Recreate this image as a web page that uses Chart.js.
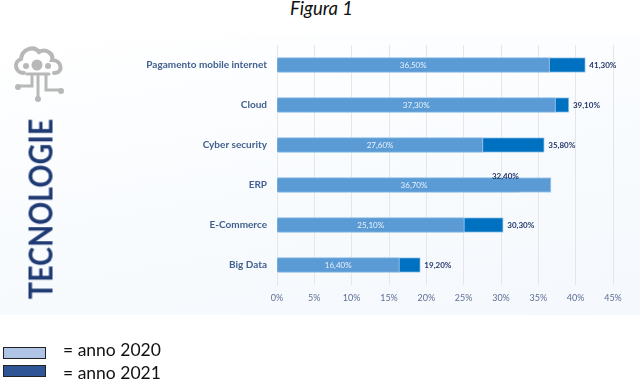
<!DOCTYPE html>
<html>
<head>
<meta charset="utf-8">
<script src="https://cdn.jsdelivr.net/npm/chart.js@4"></script>
<style>
    html, body { margin: 0; padding: 0; background: #fff; }
    body { position: relative; width: 640px; height: 382px; overflow: hidden; font-family: Lato, sans-serif; }
    #panel { position: absolute; left: 0; top: 35px; width: 640px; height: 280px;
             background: linear-gradient(170deg, #ffffff 0%, #f8fbfe 55%, #f5f8fc 100%); }
    #chartBox { position: absolute; left: 0; top: 0; width: 640px; height: 382px; filter: blur(0.35px); }
    #title { position: absolute; left: 0; top: -2px; width: 643px; text-align: center;
             font: italic 18.5px Lato, sans-serif; color: #111; line-height: 20px; }
    #side { position: absolute; left: 39.5px; top: 209px; transform: translate(-50%, -50%) rotate(-90deg) scaleX(0.895);
            font: bold 32px Lato, sans-serif; color: #1f3a73; white-space: nowrap; filter: blur(0.4px); }
    #icon { position: absolute; left: 12px; top: 44px; filter: blur(0.5px); }
    .swatch { position: absolute; left: 3px; width: 41px; height: 10px; border: 1px solid #222; }
    .legendText { position: absolute; left: 63px; font: 17.5px Lato, sans-serif; color: #111; line-height: 20px; white-space: nowrap; }
</style>
</head>
<body>
<div id="panel"></div>
<div id="title">Figura 1</div>
<svg id="icon" width="54" height="58" viewBox="0 0 54 58" fill="none" stroke="#b8b8b8" stroke-width="4" stroke-linecap="round">
    <path d="M12 29 C3 29 1 18 9 15 C10 5 22 1 27 8 C34 4 42 10 40 16 C50 16 52 29 42 29" />
    <circle cx="25" cy="21" r="5.5" fill="#b8b8b8" stroke="none"/>
    <circle cx="14" cy="22" r="3" fill="#b8b8b8" stroke="none"/>
    <circle cx="36" cy="22" r="3" fill="#b8b8b8" stroke="none"/>
    <path d="M20 32 V42 H8 M26 32 V54 M34 32 V46 H48 M15 30 H37" stroke-width="3"/>
    <circle cx="6" cy="43" r="3" fill="#b8b8b8" stroke="none"/>
    <circle cx="26" cy="55" r="3" fill="#b8b8b8" stroke="none"/>
    <circle cx="49" cy="47" r="3" fill="#b8b8b8" stroke="none"/>
</svg>
<div id="side">TECNOLOGIE</div>
<div id="chartBox"><canvas id="chart" width="640" height="382"></canvas></div>
<div class="swatch" style="top:347px;background:#b0c5e6"></div>
<div class="legendText" style="top:340px">= anno 2020</div>
<div class="swatch" style="top:365px;background:#2f5597"></div>
<div class="legendText" style="top:363px">= anno 2021</div>
<script>
// chart data
const categories = ['Pagamento mobile internet', 'Cloud', 'Cyber security', 'ERP', 'E-Commerce', 'Big Data'];
const values2020 = [36.5, 37.3, 27.6, 36.7, 25.1, 16.4];
const values2021 = [41.3, 39.1, 35.8, 32.4, 30.3, 19.2];
const xTicks = [0, 5, 10, 15, 20, 25, 30, 35, 40, 45];

// italian style percent, 36.5 -> 36,50%
function formatPct(v) {
    return v.toFixed(2).replace('.', ',') + '%';
}

// write the value labels on top of the bars
const valueLabels = {
    id: 'valueLabels',
    afterDatasetsDraw(chart) {
        const { ctx, scales: { x, y } } = chart;
        ctx.save();
        ctx.textBaseline = 'middle';
        categories.forEach((cat, i) => {
            const yPos = y.getPixelForValue(i);
            ctx.font = '8px Lato, sans-serif';
            ctx.fillStyle = '#e8f1fa';
            ctx.textAlign = 'center';
            ctx.fillText(formatPct(values2020[i]), x.getPixelForValue(values2020[i] / 2), yPos);

            ctx.font = 'bold 8px Lato, sans-serif';
            ctx.fillStyle = '#26386b';
            if (values2021[i] < values2020[i]) {
                // 2021 bar hidden behind the 2020 one, label sits above
                ctx.textAlign = 'right';
                ctx.fillText(formatPct(values2021[i]), x.getPixelForValue(values2021[i]), yPos - 8.5);
            } else {
                ctx.textAlign = 'left';
                ctx.fillText(formatPct(values2021[i]), x.getPixelForValue(values2021[i]) + 4, yPos);
            }
        });
        ctx.restore();
    }
};

new Chart(document.getElementById('chart').getContext('2d'), {
    type: 'bar',
    data: {
        labels: categories,
        datasets: [
            { label: '2020', data: values2020, backgroundColor: '#5b9bd5', borderColor: '#a9cdec', borderWidth: 1, barThickness: 15 },
            { label: '2021', data: values2021, backgroundColor: '#0070c0', borderColor: '#a9cdec', borderWidth: 1, barThickness: 15 }
        ]
    },
    options: {
        indexAxis: 'y',
        responsive: false,
        animation: false,
        layout: { padding: { top: 45, right: 27, bottom: 0, left: 0 } },
        plugins: { legend: { display: false }, title: { display: false }, tooltip: { enabled: false } },
        scales: {
            x: {
                min: 0,
                max: 45,
                afterBuildTicks: axis => { axis.ticks = xTicks.map(value => ({ value })); },
                afterFit: axis => { axis.height = 97; },
                grid: { color: '#e4e6ea', drawTicks: false },
                border: { display: false },
                ticks: { callback: v => v + '%', color: '#5f6f93', font: { family: 'Lato', size: 9 }, maxRotation: 0, padding: 8 }
            },
            y: {
                stacked: true,
                afterFit: axis => { axis.width = 277; },
                grid: { display: false },
                border: { color: '#e4e6ea' },
                ticks: { color: '#3f5f8f', font: { family: 'Lato', size: 10, weight: 'bold' }, padding: 2 }
            }
        }
    },
    plugins: [valueLabels]
});
</script>
</body>
</html>
